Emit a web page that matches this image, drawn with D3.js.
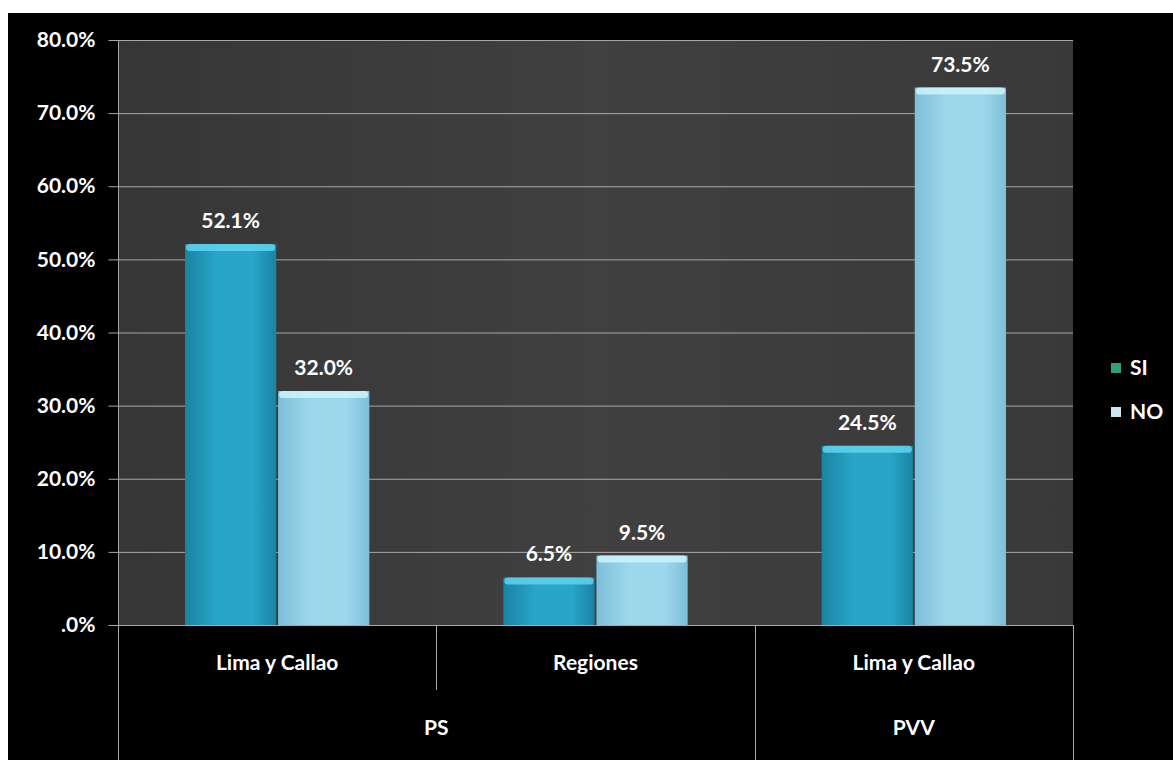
<!DOCTYPE html>
<html>
<head>
<meta charset="utf-8">
<script src="https://cdn.jsdelivr.net/npm/d3@7"></script>
<style>
  body { margin: 0; background: #ffffff; }
  svg { display: block; }
</style>
</head>
<body>
<div id="chart"></div>
<script>
// chart data
const groups = ["PS", "PS", "PVV"];
const categories = ["Lima y Callao", "Regiones", "Lima y Callao"];
const seriesNames = ["SI", "NO"];
const siValues = [52.1, 6.5, 24.5];
const noValues = [32.0, 9.5, 73.5];
const yTicks = [0, 10, 20, 30, 40, 50, 60, 70, 80];

function main() {
    const width = 1173, height = 760;
    const plot = { left: 118, right: 1073, top: 40, bottom: 625 };
    const fontSize = 21;

    const svg = d3.select("#chart").append("svg")
        .attr("width", width)
        .attr("height", height)
        .attr("font-family", "Lato, 'Open Sans', sans-serif")
        .attr("font-weight", "bold");

    const defs = svg.append("defs");

    const bg = defs.append("linearGradient").attr("id", "plotbg")
        .attr("x1", 0).attr("x2", 1).attr("y1", 0).attr("y2", 0);
    bg.append("stop").attr("offset", "0%").attr("stop-color", "#363636");
    bg.append("stop").attr("offset", "50%").attr("stop-color", "#404040");
    bg.append("stop").attr("offset", "100%").attr("stop-color", "#393939");

    const barColors = {
        SI: { edge: "#1a84a4", mid: "#29a5c7", cap: "#5fd3f0" },
        NO: { edge: "#7cbfd8", mid: "#9dd7ec", cap: "#cdf3fc" }
    };
    seriesNames.forEach(s => {
        const g = defs.append("linearGradient").attr("id", "grad" + s)
            .attr("x1", 0).attr("x2", 1).attr("y1", 0).attr("y2", 0);
        g.append("stop").attr("offset", "0%").attr("stop-color", barColors[s].edge);
        g.append("stop").attr("offset", "35%").attr("stop-color", barColors[s].mid);
        g.append("stop").attr("offset", "75%").attr("stop-color", barColors[s].mid);
        g.append("stop").attr("offset", "100%").attr("stop-color", barColors[s].edge);
    });

    // black background with white margin
    svg.append("rect").attr("x", 8).attr("y", 13)
        .attr("width", width - 8).attr("height", height - 13)
        .attr("fill", "#000000");

    svg.append("rect")
        .attr("x", plot.left).attr("y", plot.top)
        .attr("width", plot.right - plot.left)
        .attr("height", plot.bottom - plot.top)
        .attr("fill", "url(#plotbg)");

    const y = d3.scaleLinear().domain([0, 80]).range([plot.bottom, plot.top]);
    const x0 = d3.scaleBand().domain(d3.range(categories.length))
        .range([plot.left, plot.right]).padding(0);
    const x1 = d3.scaleBand().domain(seriesNames)
        .range([0, x0.bandwidth()]).paddingInner(0.02).paddingOuter(0.72);

    // gridlines
    svg.append("g").selectAll("line")
        .data(yTicks.filter(d => d > 0))
        .join("line")
        .attr("x1", plot.left).attr("x2", plot.right)
        .attr("y1", d => y(d) + 0.5).attr("y2", d => y(d) + 0.5)
        .attr("stroke", "#a8a8a8").attr("stroke-width", 1);

    // y axis
    const yAxis = svg.append("g")
        .attr("transform", `translate(${plot.left + 0.5},0)`)
        .call(d3.axisLeft(y).tickValues(yTicks).tickSize(10).tickPadding(13)
            .tickFormat(d => d === 0 ? ".0%" : d.toFixed(1) + "%"));
    yAxis.select(".domain").remove();
    yAxis.selectAll(".tick line").attr("stroke", "#a8a8a8");
    yAxis.selectAll(".tick text")
        .attr("fill", "#ffffff")
        .attr("font-size", fontSize)
        .attr("font-family", "Lato, 'Open Sans', sans-serif")
        .attr("font-weight", "bold");

    // bars
    const rows = categories.map((c, i) => ({ i, values: [
        { key: "SI", value: siValues[i] },
        { key: "NO", value: noValues[i] }
    ]}));

    const grp = svg.append("g").selectAll("g")
        .data(rows)
        .join("g")
        .attr("transform", d => `translate(${x0(d.i)},0)`);

    const bar = grp.selectAll("g")
        .data(d => d.values)
        .join("g");

    bar.append("rect")
        .attr("x", d => x1(d.key))
        .attr("y", d => y(d.value))
        .attr("width", x1.bandwidth())
        .attr("height", d => y(0) - y(d.value))
        .attr("fill", d => `url(#grad${d.key})`);

    bar.append("rect")
        .attr("x", d => x1(d.key) + 1)
        .attr("y", d => y(d.value))
        .attr("width", x1.bandwidth() - 2)
        .attr("height", 7)
        .attr("rx", 3.5)
        .attr("fill", d => barColors[d.key].cap)
        .attr("opacity", 0.85);

    bar.append("text")
        .attr("x", d => x1(d.key) + x1.bandwidth() / 2)
        .attr("y", d => y(d.value) - 16)
        .attr("text-anchor", "middle")
        .attr("fill", "#ffffff")
        .attr("font-size", fontSize)
        .text(d => d.value.toFixed(1) + "%");

    // category axis
    const lineColor = "#a8a8a8";
    svg.append("line")
        .attr("x1", plot.left).attr("x2", plot.right)
        .attr("y1", plot.bottom + 0.5).attr("y2", plot.bottom + 0.5)
        .attr("stroke", lineColor);

    // y axis line
    svg.append("line")
        .attr("x1", plot.left + 0.5).attr("x2", plot.left + 0.5)
        .attr("y1", plot.top).attr("y2", height)
        .attr("stroke", lineColor);

    // group spans
    const spans = [];
    groups.forEach((g, i) => {
        const last = spans[spans.length - 1];
        if (last && last.name === g) last.end = i;
        else spans.push({ name: g, start: i, end: i });
    });

    const boundaries = spans.map(s => x0(s.end) + x0.bandwidth());
    svg.append("g").selectAll("line")
        .data(boundaries)
        .join("line")
        .attr("x1", d => Math.round(d) + 0.5).attr("x2", d => Math.round(d) + 0.5)
        .attr("y1", plot.bottom).attr("y2", height)
        .attr("stroke", lineColor);

    // inner category separators
    const inner = categories.map((c, i) => i).filter(i => i > 0 && groups[i] === groups[i - 1]);
    svg.append("g").selectAll("line")
        .data(inner)
        .join("line")
        .attr("x1", i => Math.round(x0(i)) + 0.5).attr("x2", i => Math.round(x0(i)) + 0.5)
        .attr("y1", plot.bottom).attr("y2", 690)
        .attr("stroke", lineColor);

    svg.append("g").selectAll("text")
        .data(categories)
        .join("text")
        .attr("x", (d, i) => x0(i) + x0.bandwidth() / 2)
        .attr("y", 670)
        .attr("text-anchor", "middle")
        .attr("fill", "#ffffff")
        .attr("font-size", fontSize)
        .text(d => d);

    svg.append("g").selectAll("text")
        .data(spans)
        .join("text")
        .attr("x", s => (x0(s.start) + x0(s.end) + x0.bandwidth()) / 2)
        .attr("y", 735)
        .attr("text-anchor", "middle")
        .attr("fill", "#ffffff")
        .attr("font-size", fontSize)
        .text(s => s.name);

    // legend
    const legendColors = { SI: "#2f9f7e", NO: "#cfe6ec" };
    const legend = svg.append("g").selectAll("g")
        .data(seriesNames)
        .join("g")
        .attr("transform", (d, i) => `translate(1111,${368 + i * 44})`);
    legend.append("rect")
        .attr("x", 0).attr("y", -5)
        .attr("width", 10).attr("height", 10)
        .attr("fill", d => legendColors[d]);
    legend.append("text")
        .attr("x", 19).attr("y", 7)
        .attr("fill", "#ffffff")
        .attr("font-size", fontSize)
        .text(d => d);
}

main();
</script>
</body>
</html>
